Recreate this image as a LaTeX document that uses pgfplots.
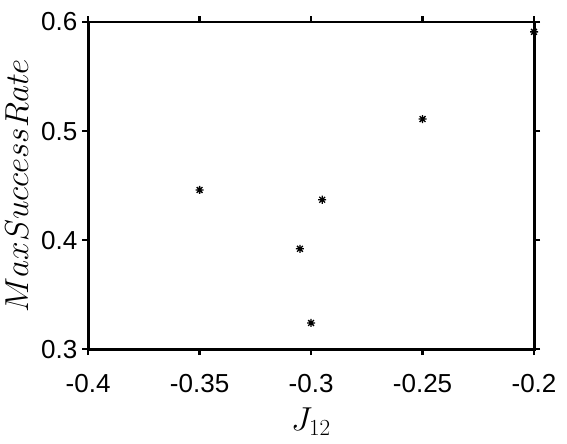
\documentclass[border=0pt]{standalone}
\usepackage{pgfplots}
\pgfplotsset{compat=1.18}
\usepackage{fontspec}
\setmainfont{Liberation Sans}
% MATLAB-like asterisk: plus and cross overlaid
\pgfdeclareplotmark{mstar}{%
  \pgfpathmoveto{\pgfqpoint{-\pgfplotmarksize}{0pt}}%
  \pgfpathlineto{\pgfqpoint{\pgfplotmarksize}{0pt}}%
  \pgfpathmoveto{\pgfqpoint{0pt}{-\pgfplotmarksize}}%
  \pgfpathlineto{\pgfqpoint{0pt}{\pgfplotmarksize}}%
  \pgfpathmoveto{\pgfqpoint{-0.72\pgfplotmarksize}{-0.72\pgfplotmarksize}}%
  \pgfpathlineto{\pgfqpoint{0.72\pgfplotmarksize}{0.72\pgfplotmarksize}}%
  \pgfpathmoveto{\pgfqpoint{-0.72\pgfplotmarksize}{0.72\pgfplotmarksize}}%
  \pgfpathlineto{\pgfqpoint{0.72\pgfplotmarksize}{-0.72\pgfplotmarksize}}%
  \pgfusepathqstroke}
\begin{document}
\begin{tikzpicture}
\useasboundingbox (-66pt,-70.4pt) rectangle (358.7pt,261.5pt);
\begin{axis}[
  at={(0,0)}, anchor=south west,
  scale only axis,
  width=334pt, height=245pt,
  xmin=-0.4, xmax=-0.2,
  ymin=0.3, ymax=0.6,
  xtick={-0.4,-0.35,...,-0.2},
  ytick={0.3,0.4,0.5,0.6},
  xticklabels={-0.4,-0.35,-0.3,-0.25,-0.2},
  yticklabels={0.3,0.4,0.5,0.6},
  xtick pos=both, ytick pos=both,
  tick align=outside,
  major tick length=4.5pt,
  tick style={line width=2pt, black},
  axis line style={line width=2.2pt},
  ticklabel style={font=\fontsize{19.5}{22}\selectfont},
  xticklabel style={yshift=-11pt},
  xlabel={$J_{12}$},
  ylabel={$MaxSuccessRate$},
  label style={font=\fontsize{23}{26}\selectfont},
  xlabel style={yshift=-4.5pt},
  ylabel style={yshift=3pt},
  clip=false,
]
\addplot[only marks, mark=mstar, mark size=3pt, line width=1pt] coordinates {
  (-0.35, 0.446)
  (-0.305, 0.392)
  (-0.3, 0.324)
  (-0.295, 0.437)
  (-0.25, 0.511)
  (-0.2, 0.591)
};
\end{axis}
\end{tikzpicture}
\end{document}
